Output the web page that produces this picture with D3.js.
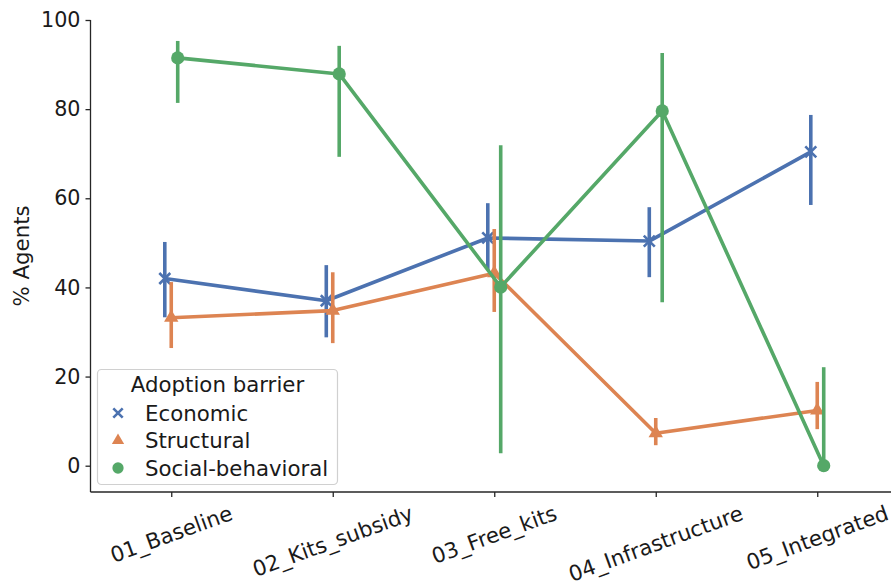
<!DOCTYPE html>
<html>
<head>
<meta charset="utf-8">
<script src="https://cdn.jsdelivr.net/npm/d3@7"></script>
<style>
  html, body { margin: 0; padding: 0; background: #fff; }
  svg { display: block; font-family: "DejaVu Sans", sans-serif; }
</style>
</head>
<body>
<svg id="chart" width="891" height="584"></svg>
<script>
// ---- data ----
const categories = ["01_Baseline", "02_Kits_subsidy", "03_Free_kits", "04_Infrastructure", "05_Integrated"];
const seriesNames = ["Economic", "Structural", "Social-behavioral"];
const economicMean = [42.0, 37.0, 51.1, 50.4, 70.4];
const economicLow  = [33.3, 28.8, 43.9, 42.3, 58.5];
const economicHigh = [50.2, 45.0, 58.9, 58.0, 78.7];
const structuralMean = [33.2, 34.8, 43.2, 7.3, 12.4];
const structuralLow  = [26.4, 27.5, 34.5, 4.6, 8.2];
const structuralHigh = [41.2, 43.4, 53.1, 10.7, 18.8];
const socialMean = [91.5, 87.9, 40.1, 79.6, 0.0];
const socialLow  = [81.4, 69.3, 2.8, 36.7, 0.0];
const socialHigh = [95.3, 94.2, 71.9, 92.6, 22.1];
const yTicks = [0, 20, 40, 60, 80, 100];
const colors = ["#4c72b0", "#dd8452", "#55a868"];
const markers = ["x", "triangle", "circle"];
const dodge = [-0.04, 0, 0.04];
const legendTitle = "Adoption barrier";
const yLabel = "% Agents";

const series = [
  { name: seriesNames[0], mean: economicMean, low: economicLow, high: economicHigh },
  { name: seriesNames[1], mean: structuralMean, low: structuralLow, high: structuralHigh },
  { name: seriesNames[2], mean: socialMean, low: socialLow, high: socialHigh }
];

const svg = d3.select("#chart");
const x = d3.scaleLinear().domain([-0.5, 4.5]).range([90.5, 898]);
const y = d3.scaleLinear().domain([-5.9, 100]).range([492, 20]);
const axisColor = "#262626";
const tickFont = 20.7;
const textFont = 21.3;

// ---- axes ----
const yAxis = svg.append("g").attr("transform", `translate(${x(-0.5)},0)`)
  .call(d3.axisLeft(y).tickValues(yTicks).tickSize(5).tickPadding(5).tickFormat(d3.format("d")));
yAxis.select(".domain").attr("d", `M0,${y(100)}V${y.range()[0]}`).attr("stroke", axisColor).attr("stroke-width", 1.3);
yAxis.selectAll(".tick line").attr("stroke", axisColor).attr("stroke-width", 1.3);
yAxis.selectAll(".tick text").attr("font-size", tickFont).attr("font-family", "DejaVu Sans").attr("fill", "#1a1a1a");

const xAxis = svg.append("g").attr("transform", `translate(0,${y.range()[0]})`)
  .call(d3.axisBottom(x).tickValues(d3.range(categories.length)).tickSize(5).tickFormat(""));
xAxis.select(".domain").attr("d", `M${x(-0.5)},0H${x(4.5)}`).attr("stroke", axisColor).attr("stroke-width", 1.3);
xAxis.selectAll(".tick line").attr("stroke", axisColor).attr("stroke-width", 1.3);

// rotated category labels, bbox centered on tick, top aligned below tick
const theta = 20 * Math.PI / 180;
const H = textFont * 1.164;
const labelTop = y.range()[0] + 8.5;
categories.forEach((c, i) => {
  const t = svg.append("text").text(c)
    .attr("font-size", textFont).attr("fill", "#1a1a1a")
    .attr("text-anchor", "middle").attr("dominant-baseline", "central");
  const L = t.node().getComputedTextLength();
  const bh = L * Math.sin(theta) + H * Math.cos(theta);
  const cx = x(i), cy = labelTop + bh / 2;
  t.attr("x", cx).attr("y", cy).attr("transform", `rotate(-20,${cx},${cy})`);
});

// y label
svg.append("text").text(yLabel)
  .attr("font-size", textFont).attr("fill", "#1a1a1a")
  .attr("text-anchor", "middle")
  .attr("transform", `translate(29,${(y.range()[0] + y(100)) / 2}) rotate(-90)`);

// ---- marks ----
function drawMarker(g, type, cx, cy, color, s) {
  if (type === "x") {
    g.append("path").attr("d", `M${cx - s},${cy - s}L${cx + s},${cy + s}M${cx - s},${cy + s}L${cx + s},${cy - s}`)
      .attr("stroke", color).attr("stroke-width", 2.6).attr("fill", "none");
  } else if (type === "triangle") {
    const r = s * 1.5;
    g.append("path").attr("d", `M${cx},${cy - r}L${cx + r * 0.87},${cy + r * 0.5}L${cx - r * 0.87},${cy + r * 0.5}Z`)
      .attr("fill", color);
  } else {
    g.append("circle").attr("cx", cx).attr("cy", cy).attr("r", s * 1.2).attr("fill", color);
  }
}

series.forEach((s, k) => {
  const g = svg.append("g");
  const xs = i => x(i + dodge[k]);
  // error bars
  s.mean.forEach((m, i) => {
    g.append("line").attr("x1", xs(i)).attr("x2", xs(i))
      .attr("y1", y(s.low[i])).attr("y2", y(s.high[i]))
      .attr("stroke", colors[k]).attr("stroke-width", 3.6).attr("stroke-linecap", "butt");
  });
  // line
  g.append("path").datum(s.mean)
    .attr("d", d3.line().x((d, i) => xs(i)).y(d => y(d)))
    .attr("fill", "none").attr("stroke", colors[k]).attr("stroke-width", 3.6)
    .attr("stroke-linejoin", "round");
  // markers
  s.mean.forEach((m, i) => drawMarker(g, markers[k], xs(i), y(m), colors[k], 5.5));
});

// ---- legend ----
const lg = svg.append("g");
lg.append("rect").attr("x", 97.5).attr("y", 369.5).attr("width", 240).attr("height", 115)
  .attr("rx", 4).attr("fill", "#fff").attr("fill-opacity", 0.8)
  .attr("stroke", "#d0d0d0").attr("stroke-width", 1.2);
lg.append("text").text(legendTitle).attr("x", 217.5).attr("y", 392)
  .attr("text-anchor", "middle").attr("font-size", textFont).attr("fill", "#1a1a1a");
seriesNames.forEach((n, k) => {
  const cy = 413 + k * 27.5;
  drawMarker(lg, markers[k], 118, cy, colors[k], 4.7);
  lg.append("text").text(n).attr("x", 145).attr("y", cy + 7.5)
    .attr("font-size", textFont).attr("fill", "#1a1a1a");
});
</script>
</body>
</html>
